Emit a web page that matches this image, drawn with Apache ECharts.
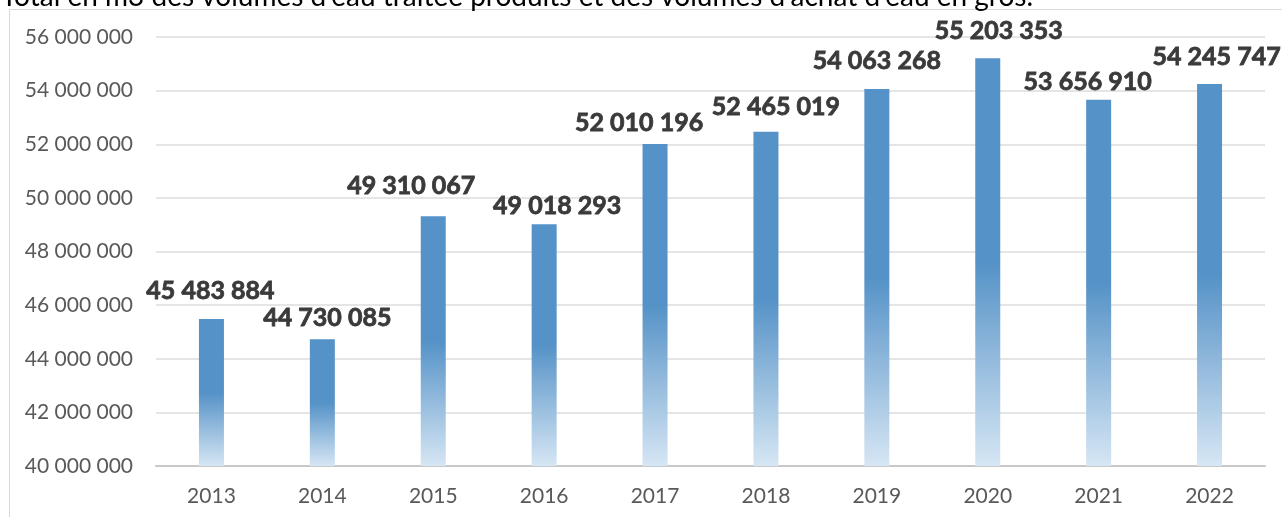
<!DOCTYPE html>
<html>
<head>
<meta charset="utf-8">
<script src="https://cdn.jsdelivr.net/npm/echarts@6/dist/echarts.min.js"></script>
<style>
html,body{margin:0;padding:0;background:#fff;}
#chart{width:1282px;height:517px;}
</style>
</head>
<body>
<div id="chart"></div>
<script>
const titleText = "Total en m3 des volumes d'eau traitée produits et des volumes d'achat d'eau en gros.";
const categories = ['2013','2014','2015','2016','2017','2018','2019','2020','2021','2022'];
const volumes = [45483884, 44730085, 49310067, 49018293, 52010196, 52465019, 54063268, 55203353, 53656910, 54245747];
const yMin = 40000000;
const yMax = 56000000;
const yStep = 2000000;
// manual label nudges (dx, dy in px) as placed in the original
const labelNudges = [[-1,-16],[5,-9],[-22,-18],[13,-6],[-16,-9],[10,-12],[0,-15],[11,-15],[-11,-5],[7,-15]];

function fmt(v){
  return String(Math.round(v)).replace(/\B(?=(\d{3})+(?!\d))/g, ' ');
}

const chart = echarts.init(document.getElementById('chart'), null, {renderer:'canvas'});
const barColor = new echarts.graphic.LinearGradient(0,0,0,1,[
  {offset:0, color:'#5592C7'},
  {offset:0.5, color:'#5592C7'},
  {offset:1, color:'#D6E6F4'}
]);

chart.setOption({
  animation:false,
  backgroundColor:'#ffffff',
  textStyle:{fontFamily:'Lato'},
  graphic:[
    {type:'rect', z:-10, silent:true, shape:{x:9.5,y:9.5,width:1400,height:700}, style:{fill:'none', stroke:'#d9d9d9', lineWidth:1}},
    {type:'text', left:1, top:-17, silent:true, style:{text:titleText, fill:'#000000', font:'28px Lato'}}
  ],
  grid:{left:156, right:17, top:37, bottom:51, containLabel:false},
  xAxis:{
    type:'category',
    data:categories,
    axisLine:{show:true, lineStyle:{color:'#c8c8c8', width:2}},
    axisTick:{show:false},
    axisLabel:{color:'#595959', fontSize:21, fontFamily:'Lato', margin:20}
  },
  yAxis:{
    type:'value',
    min:yMin, max:yMax, interval:yStep,
    axisLine:{show:false},
    axisTick:{show:false},
    splitLine:{lineStyle:{color:'#dcdcdc', width:1.5}},
    axisLabel:{color:'#595959', fontSize:21, fontFamily:'Lato', margin:23, formatter:function(v){return fmt(v);}}
  },
  series:[{
    type:'bar',
    barWidth:25,
    itemStyle:{color:barColor},
    data:volumes.map(function(v,i){
      return {value:v, label:{offset:labelNudges[i]}};
    }),
    label:{
      show:true, position:'top', distance:0,
      color:'#3a3a3a', fontSize:25, fontWeight:'bold', fontFamily:'Lato',
      textBorderColor:'#3a3a3a', textBorderWidth:0.8,
      formatter:function(p){return fmt(p.value);}
    }
  }]
});
</script>
</body>
</html>
